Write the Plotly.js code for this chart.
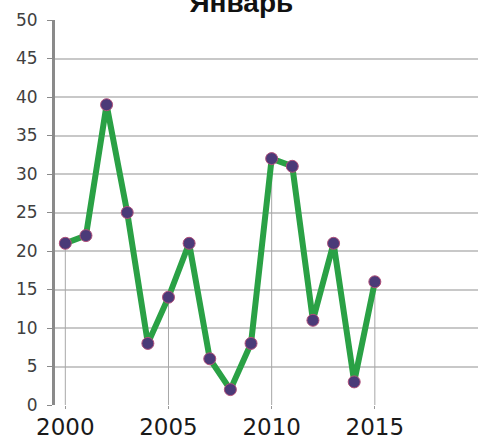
<!DOCTYPE html>
<html><head><meta charset="utf-8">
<script src="https://cdn.plot.ly/plotly-3.0.1.min.js"></script>
<style>html,body{margin:0;padding:0;background:#fff}#c{width:478px;height:443px}</style>
</head><body><div id="c"></div>
<script>
const years = [2000,2001,2002,2003,2004,2005,2006,2007,2008,2009,2010,2011,2012,2013,2014,2015];
const values = [21,22,39,25,8,14,21,6,2,8,32,31,11,21,3,16];
const xTicks = [2000,2005,2010,2015];
const yTicks = [0,5,10,15,20,25,30,35,40,45,50];
const titleText = 'Январь';

const dx = [], dy = [];
xTicks.forEach(t => { const i = years.indexOf(t); dx.push(t, t, null); dy.push(0, values[i], null); });

const traces = [
  {x: dx, y: dy, mode: 'lines', line: {color: '#a8a8a8', width: 1}, hoverinfo: 'skip', showlegend: false},
  {x: years, y: values, mode: 'lines+markers', line: {color: '#2aa145', width: 6},
   marker: {color: '#4b3a78', size: 12, line: {color: '#b0507a', width: 1}}, showlegend: false}
];
const layout = {
  width: 478, height: 443,
  margin: {l: 55, r: 0, t: 20, b: 38},
  paper_bgcolor: '#fff', plot_bgcolor: '#fff',
  title: {text: '<b>' + titleText + '</b>', x: 0.505, xanchor: 'center', y: 0.995, yref: 'container', yanchor: 'middle',
          font: {family: 'Liberation Sans, Arial', size: 28, color: '#111'}},
  xaxis: {range: [1999.5, 2020], tickvals: xTicks, ticktext: xTicks.map(String), showgrid: false, zeroline: false,
          showline: false, ticks: 'outside', ticklen: 3, tickcolor: '#999', ticklabelstandoff: -2,
          tickfont: {family: 'DejaVu Sans, Verdana', size: 23, color: '#1a1a1a'}},
  yaxis: {range: [0, 50], tickvals: yTicks, showgrid: true, gridcolor: '#c8c8c8', gridwidth: 2, zeroline: false,
          showline: true, linecolor: '#8a8a8a', linewidth: 3, ticks: 'outside', ticklen: 5, tickcolor: '#8a8a8a',
          ticklabelstandoff: 6,
          tickfont: {family: 'DejaVu Sans, Verdana', size: 17, color: '#404040'}}
};
Plotly.newPlot('c', traces, layout, {displayModeBar: false, staticPlot: true});
</script></body></html>
